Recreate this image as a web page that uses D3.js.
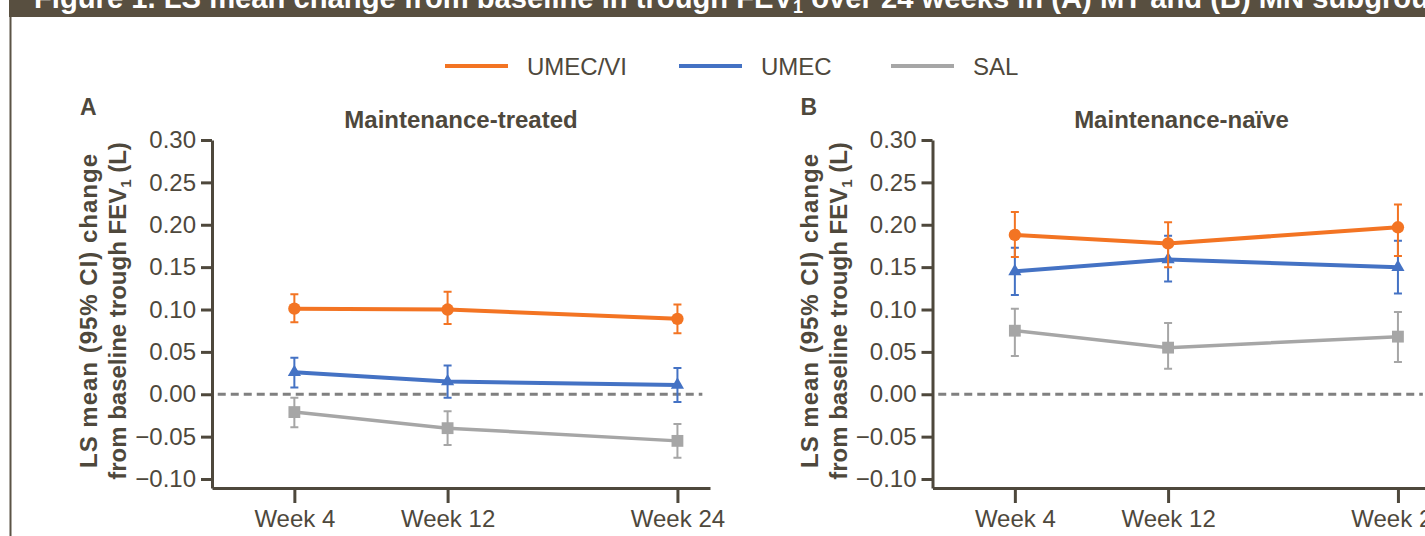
<!DOCTYPE html>
<html>
<head>
<meta charset="utf-8">
<script src="https://cdn.jsdelivr.net/npm/d3@7"></script>
<style>
  body { margin: 0; background: #fff; }
  svg { display: block; font-family: "Liberation Sans", Arial, sans-serif; }
</style>
</head>
<body>
<div id="wrapper"></div>
<script>
// data
const weeks = [4, 12, 24];
const weekLabels = ["Week 4", "Week 12", "Week 24"];
const yTicks = [-0.1, -0.05, 0, 0.05, 0.1, 0.15, 0.2, 0.25, 0.3];

const seriesNames = ["UMEC/VI", "UMEC", "SAL"];

// panel A: maintenance-treated
const mtUmecVi = [0.101, 0.100, 0.089];
const mtUmecViLo = [0.085, 0.083, 0.072];
const mtUmecViHi = [0.118, 0.121, 0.106];
const mtUmec = [0.026, 0.015, 0.011];
const mtUmecLo = [0.008, -0.004, -0.009];
const mtUmecHi = [0.043, 0.034, 0.031];
const mtSal = [-0.021, -0.040, -0.055];
const mtSalLo = [-0.039, -0.060, -0.075];
const mtSalHi = [-0.004, -0.020, -0.035];

// panel B: maintenance-naive
const mnUmecVi = [0.188, 0.178, 0.197];
const mnUmecViLo = [0.162, 0.150, 0.163];
const mnUmecViHi = [0.215, 0.203, 0.224];
const mnUmec = [0.145, 0.159, 0.150];
const mnUmecLo = [0.117, 0.133, 0.119];
const mnUmecHi = [0.173, 0.187, 0.181];
const mnSal = [0.075, 0.055, 0.068];
const mnSalLo = [0.045, 0.030, 0.038];
const mnSalHi = [0.101, 0.084, 0.097];

const colors = { "UMEC/VI": "#f37423", "UMEC": "#4472c4", "SAL": "#a6a6a6" };
const symbols = { "UMEC/VI": d3.symbolCircle, "UMEC": d3.symbolTriangle, "SAL": d3.symbolSquare };
const symbolSize = { "UMEC/VI": 120, "UMEC": 75, "SAL": 140 };
const lineWidth = { "UMEC/VI": 4, "UMEC": 4, "SAL": 3.5 };
const ink = "#4e483c";

const width = 1425, height = 536;

const svg = d3.select("#wrapper")
  .append("svg")
  .attr("width", width)
  .attr("height", height);

// title bar (cut off at the top in the original)
svg.append("rect")
  .attr("x", 9).attr("y", 0)
  .attr("width", width - 9).attr("height", 17)
  .attr("fill", "#584f40");
const title = svg.append("text")
  .attr("x", 34).attr("y", 7.5)
  .attr("fill", "#fff")
  .attr("font-weight", "bold")
  .attr("font-size", 29.2);
title.append("tspan").text("Figure 1. LS mean change from baseline in trough FEV");
title.append("tspan").attr("font-size", 18).attr("dy", 5).text("1");
title.append("tspan").attr("dy", -5).text(" over 24 weeks in (A) MT and (B) MN subgroups");

svg.append("line")
  .attr("x1", 10.5).attr("x2", 10.5)
  .attr("y1", 17).attr("y2", height)
  .attr("stroke", "#5b5345").attr("stroke-width", 2);

// legend
const legendX = [445, 679, 891];
seriesNames.forEach((name, i) => {
  const g = svg.append("g").attr("transform", `translate(${legendX[i]},66)`);
  g.append("line")
    .attr("x1", 0).attr("x2", 63)
    .attr("stroke", colors[name]).attr("stroke-width", 4);
  g.append("text")
    .attr("x", 82).attr("dy", "0.36em")
    .attr("font-size", 24).attr("fill", ink)
    .text(name);
});

const panels = [
  {
    letter: "A", title: "Maintenance-treated", left: 212,
    series: {
      "UMEC/VI": [mtUmecVi, mtUmecViLo, mtUmecViHi],
      "UMEC": [mtUmec, mtUmecLo, mtUmecHi],
      "SAL": [mtSal, mtSalLo, mtSalHi],
    },
  },
  {
    letter: "B", title: "Maintenance-naïve", left: 932.5,
    series: {
      "UMEC/VI": [mnUmecVi, mnUmecViLo, mnUmecViHi],
      "UMEC": [mnUmec, mnUmecLo, mnUmecHi],
      "SAL": [mnSal, mnSalLo, mnSalHi],
    },
  },
];

const yScale = d3.scaleLinear().domain([-0.1106, 0.30]).range([488, 140]);

panels.forEach((p) => {
  const xScale = d3.scaleLinear().domain([-0.3, 25.7]).range([p.left, p.left + 498]);
  const g = svg.append("g");

  // panel letter + title
  g.append("text")
    .attr("x", p.left - 132).attr("y", 115)
    .attr("font-size", 23).attr("font-weight", "bold").attr("fill", ink)
    .text(p.letter);
  g.append("text")
    .attr("x", d3.mean(xScale.range())).attr("y", 128)
    .attr("text-anchor", "middle")
    .attr("font-size", 24).attr("font-weight", "bold").attr("fill", ink)
    .text(p.title);

  // y axis
  const yAxis = g.append("g")
    .attr("transform", `translate(${p.left},0)`)
    .call(d3.axisLeft(yScale)
      .tickValues(yTicks)
      .tickSize(11).tickSizeOuter(0).tickPadding(5)
      .tickFormat(d3.format(".2f")));

  // x axis
  const xAxis = g.append("g")
    .attr("transform", "translate(0,488)")
    .call(d3.axisBottom(xScale)
      .tickValues(weeks)
      .tickSize(15).tickSizeOuter(0).tickPadding(7)
      .tickFormat((d, i) => weekLabels[i]));

  [yAxis, xAxis].forEach((ax) => {
    ax.select(".domain").attr("stroke", ink).attr("stroke-width", 3);
    ax.selectAll(".tick line").attr("stroke", ink).attr("stroke-width", 3);
    ax.selectAll(".tick text").attr("fill", ink).attr("font-size", 24)
      .attr("font-family", "'Liberation Sans', Arial, sans-serif");
  });

  // y axis title
  const yTitle = g.append("text")
    .attr("transform", `translate(${p.left - 115},311) rotate(-90)`)
    .attr("text-anchor", "middle")
    .attr("font-size", 24).attr("font-weight", "bold").attr("fill", ink);
  yTitle.append("tspan").attr("x", 0).attr("y", 0)
    .attr("textLength", 314)
    .text("LS mean (95% CI) change");
  const l2 = yTitle.append("tspan").attr("x", 0).attr("y", 29);
  l2.append("tspan").text("from baseline trough FEV");
  l2.append("tspan").attr("font-size", 15).attr("dy", 5).text("1");
  l2.append("tspan").attr("dy", -5).text(" (L)");

  // zero reference
  g.append("line")
    .attr("x1", xScale(0)).attr("x2", xScale(25.3))
    .attr("y1", yScale(0)).attr("y2", yScale(0))
    .attr("stroke", "#808080").attr("stroke-width", 3)
    .attr("stroke-dasharray", "8,5");

  // series: SAL at the back, UMEC/VI in front
  ["SAL", "UMEC", "UMEC/VI"].forEach((name) => {
    const [vals, lo, hi] = p.series[name];
    const pts = weeks.map((w, i) => ({ w, v: vals[i], lo: lo[i], hi: hi[i] }));
    const sg = g.append("g");

    sg.selectAll(".err")
      .data(pts).join("path")
      .attr("d", (d) => {
        const x = xScale(d.w), y1 = yScale(d.lo), y2 = yScale(d.hi);
        return `M${x - 4},${y1}H${x + 4}M${x},${y1}V${y2}M${x - 4},${y2}H${x + 4}`;
      })
      .attr("fill", "none")
      .attr("stroke", colors[name]).attr("stroke-width", 2);

    sg.append("path")
      .attr("d", d3.line().x((d) => xScale(d.w)).y((d) => yScale(d.v))(pts))
      .attr("fill", "none")
      .attr("stroke", colors[name]).attr("stroke-width", lineWidth[name]);

    sg.selectAll(".mark")
      .data(pts).join("path")
      .attr("transform", (d) => `translate(${xScale(d.w)},${yScale(d.v)})`)
      .attr("d", d3.symbol().type(symbols[name]).size(symbolSize[name]))
      .attr("fill", colors[name]);
  });
});
</script>
</body>
</html>
